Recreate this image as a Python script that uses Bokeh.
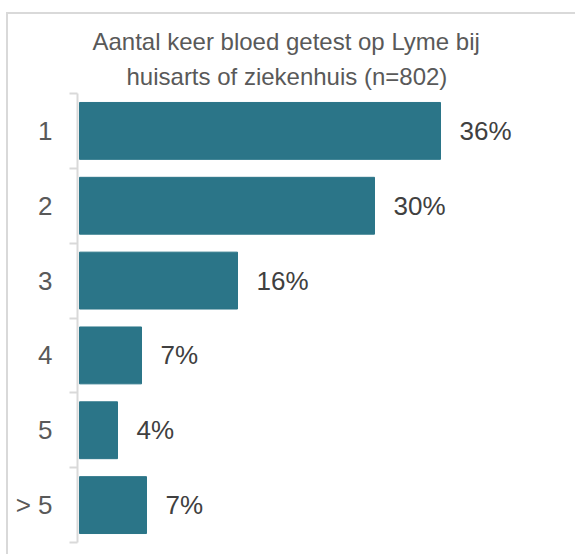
from bokeh.plotting import figure
from bokeh.models import Range1d, FixedTicker, ColumnDataSource, LabelSet, Title
from bokeh.core.properties import value
from bokeh.embed import file_html
from bokeh.resources import INLINE

categories = ["1", "2", "3", "4", "5", "> 5"]
values = [36.1, 29.5, 15.8, 6.2, 3.8, 6.7]
labels = ["36%", "30%", "16%", "7%", "4%", "7%"]
title_lines = ["Aantal keer bloed getest op Lyme bij", "huisarts of ziekenhuis (n=802)"]

idx = list(range(len(categories)))
src = ColumnDataSource(dict(y=idx, v=values, lab=labels))

FONT = "Liberation Sans"
BAR = "#2b7588"
GRID = "#d9d9d9"

# canvas starts at page (8, 14) because of the margin + 2px CSS border
p = figure(width=569, height=542, output_backend="svg", toolbar_location=None, title=None,
           x_range=Range1d(-0.2, 49.8), y_range=Range1d(len(categories) - 0.5, -0.5),
           x_axis_location=None, min_border_left=69, min_border_right=0,
           min_border_bottom=14, min_border_top=79,
           margin=(12, 0, 0, 6),
           styles={"border-top": f"2px solid {GRID}", "border-left": f"2px solid {GRID}"})
p.outline_line_color = None
p.xgrid.visible = False
p.ygrid.visible = False
p.background_fill_color = "white"
p.border_fill_color = "white"

offsets = [15, 49]
standoffs = [4, 8]
for line, off, so in reversed(list(zip(title_lines, offsets, standoffs))):
    t = Title(text=line, align="left", offset=off, standoff=so,
              text_font=FONT, text_font_size="24px", text_font_style="normal",
              text_color="#595959")
    p.add_layout(t, "above")

ax = p.yaxis[0]
ax.ticker = FixedTicker(ticks=idx, minor_ticks=[i - 0.5 for i in range(len(categories) + 1)])
ax.major_label_overrides = {i: c for i, c in zip(idx, categories)}
ax.axis_line_color = GRID
ax.axis_line_width = 2
ax.major_tick_line_color = None
ax.major_tick_in = 0
ax.major_tick_out = 0
ax.minor_tick_line_color = GRID
ax.minor_tick_line_width = 2
ax.minor_tick_in = 0
ax.minor_tick_out = 8
ax.major_label_text_font = FONT
ax.major_label_text_font_size = "26px"
ax.major_label_text_color = "#595959"
ax.major_label_standoff = 17

p.hbar(y="y", left=0, right="v", height=0.76, source=src, fill_color=BAR, line_color=BAR)

ls = LabelSet(x="v", y="y", text="lab", x_offset=19, source=src,
              text_baseline="middle", text_align="left",
              text_font=value(FONT), text_font_size="26px", text_color="#404040")
p.add_layout(ls)

open("out.html", "w").write(file_html(p, INLINE))
